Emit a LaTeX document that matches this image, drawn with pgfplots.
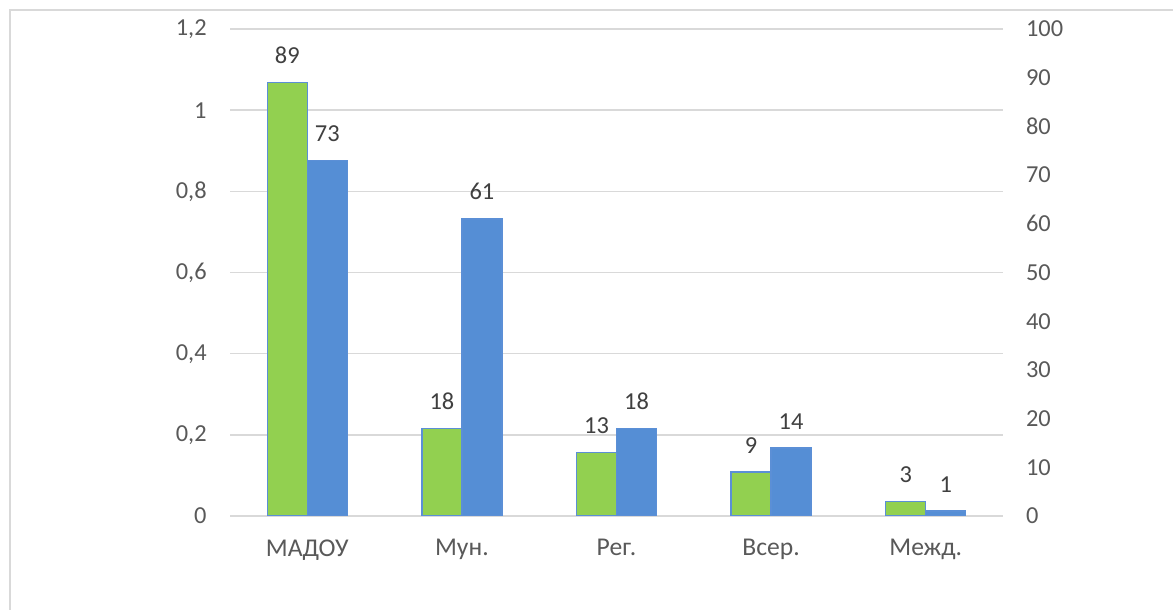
\documentclass[border=0pt]{standalone}
\usepackage{pgfplots}
\pgfplotsset{compat=1.18}
\usepackage{fontspec}
\setmainfont{Carlito}
\definecolor{grn}{HTML}{92D050}
\definecolor{blu}{HTML}{558ED5}
\definecolor{edge}{HTML}{5B8FD6}
\definecolor{gridc}{HTML}{D9D9D9}
\definecolor{tickc}{HTML}{595959}
\definecolor{labc}{HTML}{404040}
\definecolor{framec}{HTML}{D9D9D9}
\begin{document}
\begin{tikzpicture}[x=1pt,y=1pt]
\useasboundingbox (0,0) rectangle (586.5,305);
\draw[framec, line width=1pt] (5,0) -- (5,300) -- (590,300);
\pgfplotsset{
  common/.style={
    at={(115pt,47pt)}, anchor=south west,
    scale only axis, width=386.5pt, height=243.5pt,
    xmin=-0.5, xmax=4.5,
    major tick length=0pt,
    /pgf/number format/assume math mode=true,
    /pgf/number format/use comma,
    tick label style={font=\fontsize{12.2}{14}\selectfont, text=tickc, inner sep=0pt},
  }
}
\begin{axis}[common,
  ymin=0, ymax=1.2,
  ytick={0,0.2,0.4,0.6,0.8,1,1.2},
  yticklabels={0,{0,2},{0,4},{0,6},{0,8},1,{1,2}},
  ymajorgrids, grid style={gridc, line width=0.75pt},
  axis x line*=bottom, axis y line*=left,
  x axis line style={gridc, line width=0.75pt, -},
  y axis line style={draw=none},
  xtick={0,1,2,3,4},
  xticklabels={МАДОУ,Мун.,Рег.,Всер.,Межд.},
  xticklabel style={anchor=north, yshift=-11.5pt, font=\fontsize{12.8}{14}\selectfont},
  yticklabel style={anchor=east, xshift=-11.5pt},
]
\addplot[draw=none] coordinates {(0,0)};
\end{axis}
\begin{axis}[common,
  ymin=0, ymax=100,
  ytick={0,10,...,100},
  axis x line=none,
  axis y line*=right,
  y axis line style={draw=none},
  yticklabel style={anchor=west, xshift=11.3pt},
  ybar=0pt, bar width=20pt,
  nodes near coords,
  every node near coord/.append style={font=\fontsize{12.2}{14}\selectfont, text=labc, inner sep=0pt, anchor=south, yshift=9pt},
]
\addplot[fill=grn, draw=edge, line width=0.75pt] coordinates {(0,89) (1,18) (2,13) (3,9) (4,3)};
\addplot[fill=blu, draw=edge, line width=0.75pt] coordinates {(0,73) (1,61) (2,18) (3,14) (4,1)};
\end{axis}
\end{tikzpicture}
\end{document}
